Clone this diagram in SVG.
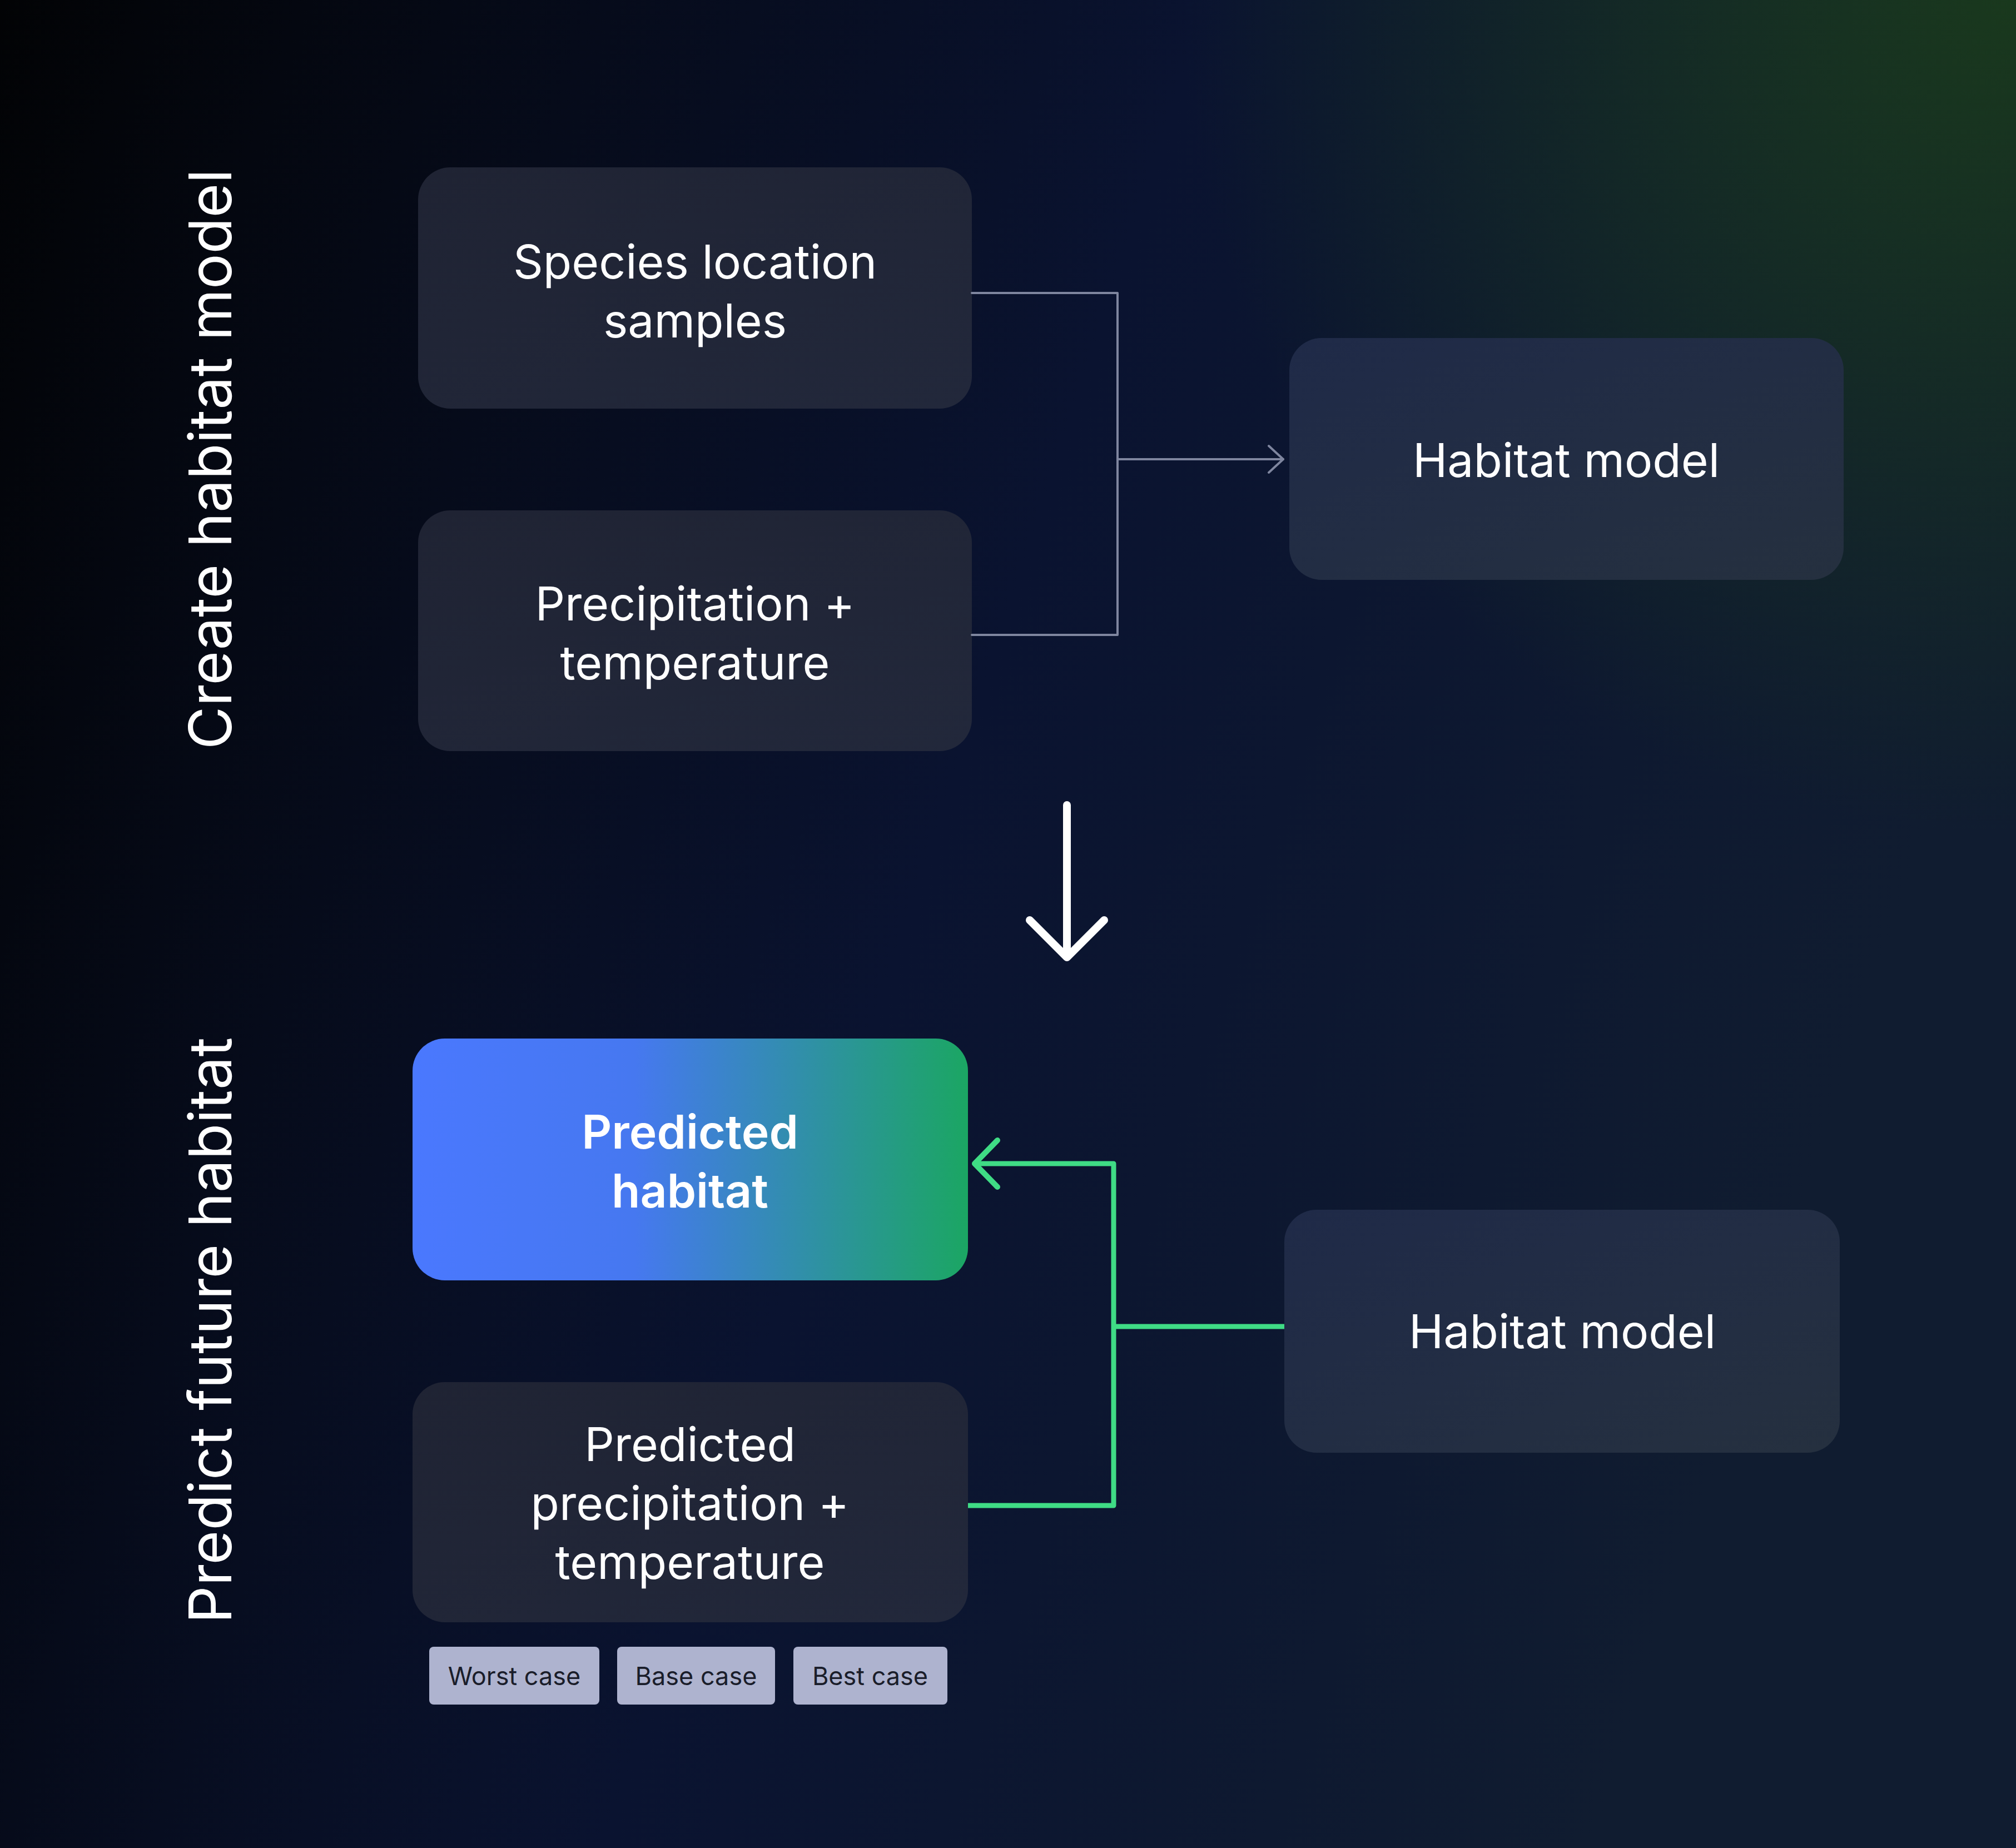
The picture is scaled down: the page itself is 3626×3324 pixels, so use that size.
<svg xmlns="http://www.w3.org/2000/svg" width="3626" height="3324" viewBox="0 0 3626 3324">
<defs>
<linearGradient id="bg" x1="0" y1="0" x2="1" y2="0.3">
<stop offset="0" stop-color="#020305"/>
<stop offset="0.55" stop-color="#0a1330"/>
<stop offset="1" stop-color="#101c30"/>
</linearGradient>
<radialGradient id="gr" cx="3626" cy="0" r="1500" gradientUnits="userSpaceOnUse">
<stop offset="0" stop-color="#1a3a1c" stop-opacity="0.95"/>
<stop offset="1" stop-color="#1a3a1c" stop-opacity="0"/>
</radialGradient>
<linearGradient id="box" x1="0" y1="0" x2="1" y2="1">
<stop offset="0" stop-color="#1f2333"/>
<stop offset="1" stop-color="#22283b"/>
</linearGradient>
<linearGradient id="box2" x1="0" y1="0" x2="1" y2="1">
<stop offset="0" stop-color="#1f2a48"/>
<stop offset="1" stop-color="#25303f"/>
</linearGradient>
<linearGradient id="pred" x1="0" y1="0" x2="1" y2="0">
<stop offset="0" stop-color="#4a78fe"/>
<stop offset="0.4" stop-color="#4678f0"/>
<stop offset="1" stop-color="#1ba663"/>
</linearGradient>
<style>
.t{font-family:Inter,"Liberation Sans",sans-serif;fill:#ffffff;font-size:84px;text-anchor:middle;dominant-baseline:central}
.b{font-weight:600}
.v{font-family:Inter,"Liberation Sans",sans-serif;fill:#ffffff;font-size:106px;text-anchor:middle;dominant-baseline:central}
.tag{fill:#aeb3cf}
.tt{font-family:Inter,"Liberation Sans",sans-serif;fill:#1a1d2a;font-size:45px;text-anchor:middle;dominant-baseline:central}
</style>
</defs>
<rect width="3626" height="3324" fill="url(#bg)"/>
<rect width="3626" height="3324" fill="url(#gr)"/>
<text class="v" transform="translate(377 826) rotate(-90)">Create habitat model</text>
<text class="v" transform="translate(377 2393) rotate(-90)">Predict future habitat</text>
<g id="species"><rect x="752" y="301" width="996" height="434" rx="58" fill="url(#box)"/>
<text class="t" x="1250" y="470">Species location</text><text class="t" x="1250" y="576">samples</text></g>
<g id="precip"><rect x="752" y="918" width="996" height="433" rx="58" fill="url(#box)"/>
<text class="t" x="1250" y="1085">Precipitation +</text><text class="t" x="1250" y="1191">temperature</text></g>
<g id="habitat1"><rect x="2319" y="608" width="997" height="435" rx="58" fill="url(#box2)"/>
<text class="t" x="2817" y="827">Habitat model</text></g>
<g id="predicted"><rect x="742" y="1868" width="999" height="435" rx="58" fill="url(#pred)"/>
<text class="t b" x="1241" y="2035">Predicted</text><text class="t b" x="1241" y="2141">habitat</text></g>
<g id="predprecip"><rect x="742" y="2486" width="999" height="432" rx="58" fill="url(#box)"/>
<text class="t" x="1241" y="2597">Predicted</text><text class="t" x="1241" y="2703">precipitation +</text><text class="t" x="1241" y="2809">temperature</text></g>
<g id="habitat2"><rect x="2310" y="2176" width="999" height="437" rx="58" fill="url(#box2)"/>
<text class="t" x="2810" y="2394">Habitat model</text></g>
<g id="tags">
<rect class="tag" x="772" y="2962" width="306" height="104" rx="8"/><text class="tt" x="925" y="3014">Worst case</text>
<rect class="tag" x="1110" y="2962" width="284" height="104" rx="8"/><text class="tt" x="1252" y="3014">Base case</text>
<rect class="tag" x="1427" y="2962" width="277" height="104" rx="8"/><text class="tt" x="1565" y="3014">Best case</text>
</g>
<g id="connectors" fill="none" stroke-linecap="round" stroke-linejoin="round">
<path d="M1748 527H2010V1142H1748M2010 826H2308" stroke="#7f869f" stroke-width="4"/>
<path d="M2282 802L2308 826L2282 850" stroke="#7f869f" stroke-width="4"/>
<path d="M1919 1448V1720M1852 1655L1919 1722L1986 1655" stroke="#ffffff" stroke-width="14"/>
<path d="M1741 2708H2003V2093H1755M2003 2386H2310" stroke="#3fdc85" stroke-width="9" stroke-linecap="butt"/>
<path d="M1794 2051L1753 2093L1794 2135" stroke="#3fdc85" stroke-width="10"/>
</g>
</svg>
